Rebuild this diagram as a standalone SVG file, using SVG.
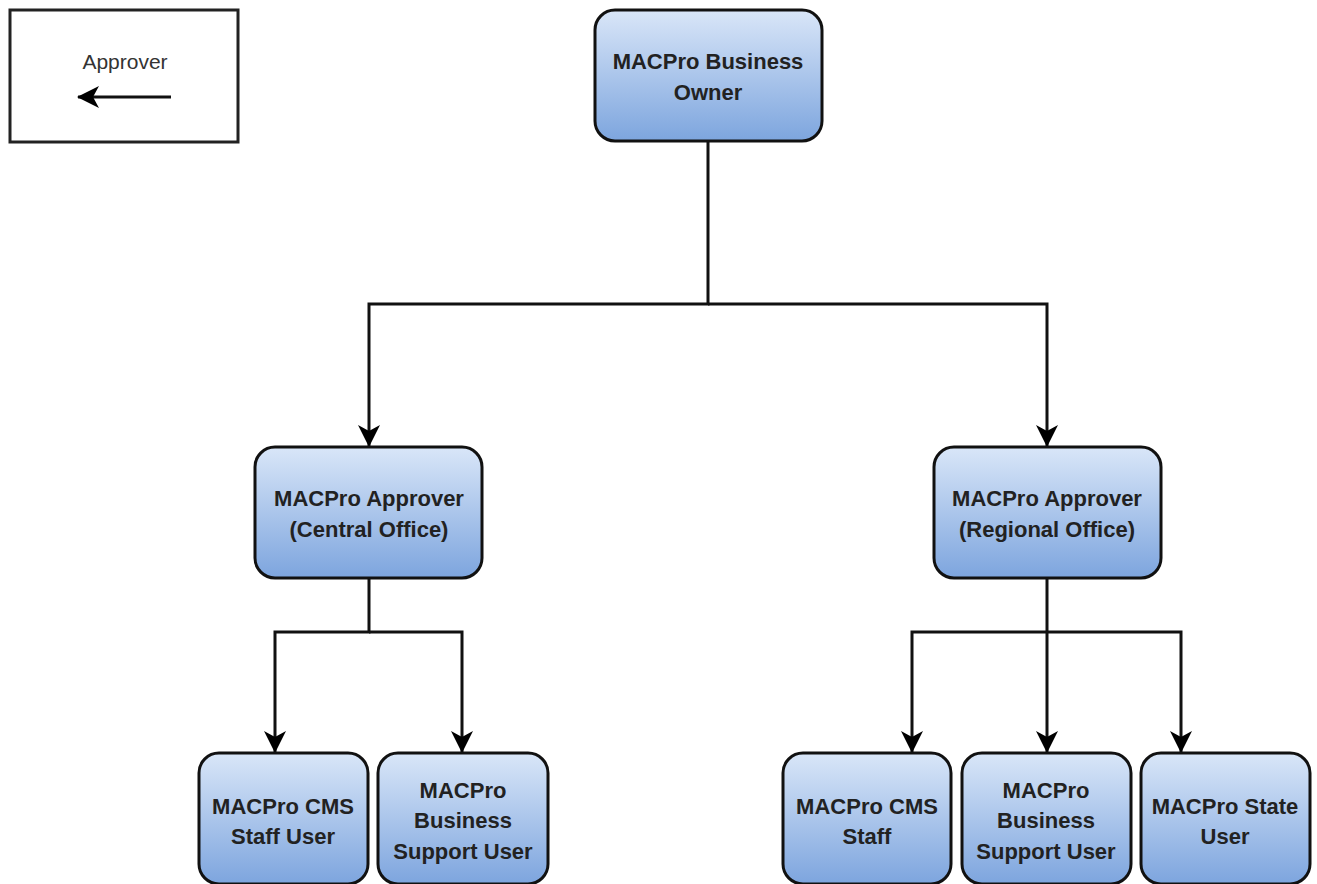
<svg xmlns="http://www.w3.org/2000/svg" width="1317" height="884" viewBox="0 0 1317 884">
<defs>
<linearGradient id="g" x1="0" y1="0" x2="0" y2="1">
<stop offset="0" stop-color="#d9e6f8"/>
<stop offset="1" stop-color="#7da5de"/>
</linearGradient>
<marker id="ah" viewBox="0 0 22 24" refX="21" refY="12" markerWidth="22" markerHeight="24" markerUnits="userSpaceOnUse" orient="auto">
<path d="M0,1 L22,12 L0,23 L6,12 Z" fill="#000"/>
</marker>
<style>
.n{fill:url(#g);stroke:#111;stroke-width:3}
.t{font-family:"Liberation Sans Narrow","Liberation Sans",Arial,sans-serif;font-weight:bold;font-size:22px;fill:#222;text-anchor:middle}
.c{fill:none;stroke:#111;stroke-width:3}
</style>
</defs>
<rect width="1317" height="884" fill="#fff"/>
<g id="legend">
<rect x="10" y="10" width="228" height="132" fill="#fff" stroke="#222" stroke-width="3"/>
<text x="125" y="69" font-family="Liberation Sans Narrow,Liberation Sans,Arial,sans-serif" font-size="21" fill="#333" text-anchor="middle">Approver</text>
<line x1="171" y1="97" x2="78" y2="97" class="c" marker-end="url(#ah)"/>
</g>
<g id="connectors">
<path class="c" d="M708,141 V304 H369 V446" marker-end="url(#ah)"/>
<path class="c" d="M708,304 H1047 V446" marker-end="url(#ah)"/>
<path class="c" d="M369,578 V632 H275 V752" marker-end="url(#ah)"/>
<path class="c" d="M369,632 H462 V752" marker-end="url(#ah)"/>
<path class="c" d="M1047,578 V752" marker-end="url(#ah)"/>
<path class="c" d="M1047,632 H912 V752" marker-end="url(#ah)"/>
<path class="c" d="M1047,632 H1181 V752" marker-end="url(#ah)"/>
</g>
<g id="owner">
<rect class="n" x="595" y="10" width="227" height="131" rx="20"/>
<text class="t" x="708" y="69">MACPro Business</text>
<text class="t" x="708" y="100">Owner</text>
</g>
<g id="central">
<rect class="n" x="255" y="447" width="227" height="131" rx="20"/>
<text class="t" x="369" y="506">MACPro Approver</text>
<text class="t" x="369" y="537">(Central Office)</text>
</g>
<g id="regional">
<rect class="n" x="934" y="447" width="227" height="131" rx="20"/>
<text class="t" x="1047" y="506">MACPro Approver</text>
<text class="t" x="1047" y="537">(Regional Office)</text>
</g>
<g id="cms-staff-user">
<rect class="n" x="199" y="753" width="169" height="131" rx="20"/>
<text class="t" x="283" y="814">MACPro CMS</text>
<text class="t" x="283" y="844">Staff User</text>
</g>
<g id="bsu-left">
<rect class="n" x="378" y="753" width="170" height="131" rx="20"/>
<text class="t" x="463" y="798">MACPro</text>
<text class="t" x="463" y="828">Business</text>
<text class="t" x="463" y="859">Support User</text>
</g>
<g id="cms-staff">
<rect class="n" x="783" y="753" width="168" height="131" rx="20"/>
<text class="t" x="867" y="814">MACPro CMS</text>
<text class="t" x="867" y="844">Staff</text>
</g>
<g id="bsu-right">
<rect class="n" x="962" y="753" width="169" height="131" rx="20"/>
<text class="t" x="1046" y="798">MACPro</text>
<text class="t" x="1046" y="828">Business</text>
<text class="t" x="1046" y="859">Support User</text>
</g>
<g id="state-user">
<rect class="n" x="1141" y="753" width="169" height="131" rx="20"/>
<text class="t" x="1225" y="814">MACPro State</text>
<text class="t" x="1225" y="844">User</text>
</g>
</svg>
